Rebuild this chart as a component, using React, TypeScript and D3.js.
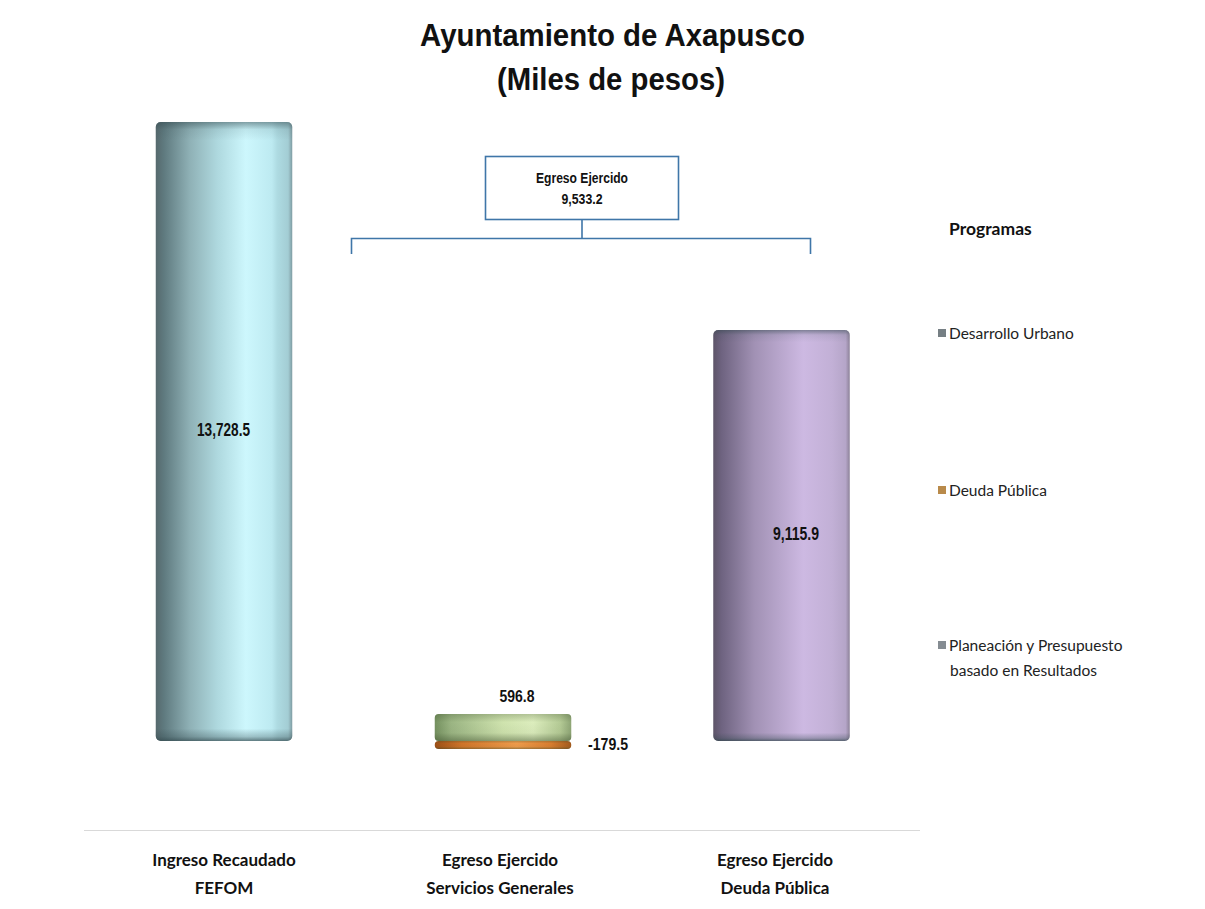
import React from "react";
import * as d3 from "d3";

const categories = ["Ingreso Recaudado|FEFOM", "Egreso Ejercido|Servicios Generales", "Egreso Ejercido|Deuda Pública"];
const ingresoValues = [13728.5, 0, 0];
const desarrolloValues = [0, 596.8, 0];
const deudaValues = [0, -179.5, 9115.9];
const legendItems = ["Desarrollo Urbano", "Deuda Pública", "Planeación y Presupuesto|basado en Resultados"];
const legendKeys = ["#767f84", "#b98a4a", "#858c92"];
const bracketLabel = ["Egreso Ejercido", "9,533.2"];
const titleLines = ["Ayuntamiento de Axapusco", "(Miles de pesos)"];

const W = 1205, H = 909;
const xCenter = d3.scaleLinear().domain([0, 1, 2]).range([224, 503, 781.5]);
const barW = 136.5;
const y = d3.scaleLinear().domain([0, 13728.5]).range([741, 122]);
const fmt = (v: number) => d3.format(",.1f")(v).replace("−", "-");

type Pal = { id: string; stops: [number, string][]; };
const palettes: Pal[] = [
  { id: "g0", stops: [[0, "#56696d"], [0.06, "#5f7a7f"], [0.25, "#8fb1b6"], [0.45, "#aed8de"], [0.66, "#cdf7fd"], [0.85, "#bdeaf1"], [0.89, "#aedbe2"], [0.97, "#a3cdd4"], [1, "#7f9ca2"]] },
  { id: "g1", stops: [[0, "#74905f"], [0.12, "#9bb583"], [0.5, "#cfe3ae"], [0.72, "#dcedbd"], [0.92, "#b4ca95"], [1, "#8ea575"]] },
  { id: "g2", stops: [[0, "#9c4f16"], [0.2, "#cf7429"], [0.6, "#ee9b4b"], [0.85, "#d87d2f"], [1, "#a35a1c"]] },
  { id: "g3", stops: [[0, "#5d5468"], [0.06, "#6e6380"], [0.3, "#a191b4"], [0.66, "#cdb9e2"], [0.87, "#c2b0d6"], [0.97, "#b5a5c8"], [1, "#8d8299"]] },
];

const sans = "'Liberation Sans', Arial, sans-serif";
const body = "Lato, 'Open Sans', sans-serif";

function Bar({ i, v0, v1, fill, edge }: { i: number; v0: number; v1: number; fill: string; edge?: boolean }) {
  const top = y(Math.max(v0, v1));
  const h = Math.abs(y(v0) - y(v1));
  const left = xCenter(i) - barW / 2;
  return (
    <g>
      <rect x={left} y={top} width={barW} height={h} rx={edge ? 4 : 5} fill={`url(#${fill})`} />
      <rect x={left} y={top} width={barW} height={h} rx={edge ? 4 : 5} fill={edge ? "url(#shadeShort)" : "url(#shadeTall)"} />
    </g>
  );
}

function Narrow({ x, y: yy, w, size, children }: { x: number; y: number; w: number; size: number; children: string }) {
  return (
    <text x={x} y={yy} textLength={w} lengthAdjust="spacingAndGlyphs" textAnchor="middle" fontFamily={sans} fontWeight="700" fontSize={size} fill="#111">
      {children}
    </text>
  );
}

export default function App() {
  const mid = 582;
  return (
    <svg width={W} height={H} viewBox={`0 0 ${W} ${H}`} style={{ position: "absolute", left: 0, top: 0, background: "#fff" }}>
      <defs>
        {palettes.map((p) => (
          <linearGradient key={p.id} id={p.id} x1="0" x2="1" y1="0" y2="0">
            {p.stops.map(([o, c]) => <stop key={o} offset={o} stopColor={c} />)}
          </linearGradient>
        ))}
        <linearGradient id="shadeTall" x1="0" x2="0" y1="0" y2="1">
          <stop offset="0" stopColor="#31474c" stopOpacity={0.5} />
          <stop offset="0.012" stopColor="#31474c" stopOpacity={0.1} />
          <stop offset="0.03" stopColor="#31474c" stopOpacity={0} />
          <stop offset="0.98" stopColor="#31474c" stopOpacity={0} />
          <stop offset="0.993" stopColor="#31474c" stopOpacity={0.3} />
          <stop offset="1" stopColor="#31474c" stopOpacity={0.7} />
        </linearGradient>
        <linearGradient id="shadeShort" x1="0" x2="0" y1="0" y2="1">
          <stop offset="0" stopColor="#3a4a2a" stopOpacity={0.25} />
          <stop offset="0.3" stopColor="#3a4a2a" stopOpacity={0} />
          <stop offset="0.7" stopColor="#3a4a2a" stopOpacity={0.05} />
          <stop offset="1" stopColor="#3a4a2a" stopOpacity={0.45} />
        </linearGradient>
      </defs>

      <Narrow x={612.5} y={46} w={385} size={31}>{titleLines[0]}</Narrow>
      <Narrow x={611} y={90} w={228} size={31}>{titleLines[1]}</Narrow>

      <Bar i={0} v0={0} v1={ingresoValues[0]} fill="g0" />
      <Bar i={1} v0={0} v1={desarrolloValues[1]} fill="g1" edge />
      <Bar i={1} v0={0} v1={deudaValues[1]} fill="g2" edge />
      <Bar i={2} v0={0} v1={deudaValues[2]} fill="g3" />

      <Narrow x={223.5} y={436} w={53} size={18}>{fmt(ingresoValues[0])}</Narrow>
      <Narrow x={796} y={540} w={46} size={18}>{fmt(deudaValues[2])}</Narrow>
      <Narrow x={517} y={702} w={35} size={17}>{fmt(desarrolloValues[1])}</Narrow>
      <Narrow x={608} y={750} w={40} size={17}>{fmt(deudaValues[1])}</Narrow>

      <rect x={485.5} y={156.5} width={193} height={63} fill="#fff" stroke="#3f76a8" strokeWidth={1.6} />
      <Narrow x={582} y={183} w={92} size={14}>{bracketLabel[0]}</Narrow>
      <Narrow x={582} y={204} w={41} size={14}>{bracketLabel[1]}</Narrow>
      <path d={`M${mid} 220V238M351.5 254V238.5H810.5V254`} fill="none" stroke="#3f76a8" strokeWidth={1.6} />

      <text x={949} y={235} fontFamily={body} fontWeight="700" fontSize={17.5} fill="#111">Programas</text>
      {legendItems.map((item, i) => {
        const yy = [333, 490, 645][i];
        const lines = item.split("|");
        return (
          <g key={item}>
            <rect x={938} y={yy - 4} width={8} height={8} fill={legendKeys[i]} />
            {lines.map((l, k) => (
              <text key={l} x={k === 0 ? 949 : 950} y={yy + 5.5 + k * 25} fontFamily={body} fontSize={15.5} fill="#222">{l}</text>
            ))}
          </g>
        );
      })}

      <line x1={84} x2={920} y1={830.5} y2={830.5} stroke="#d9d9d9" strokeWidth={1.2} />
      {categories.map((c, i) => {
        const lines = c.split("|");
        return (
          <g key={c} fontFamily={body} fontWeight="700" fontSize={17} fill="#111" textAnchor="middle">
            {lines.map((l, k) => (
              <text key={l} x={[224, 500, 775][i]} y={866 + k * 27.5}>{l}</text>
            ))}
          </g>
        );
      })}
    </svg>
  );
}
